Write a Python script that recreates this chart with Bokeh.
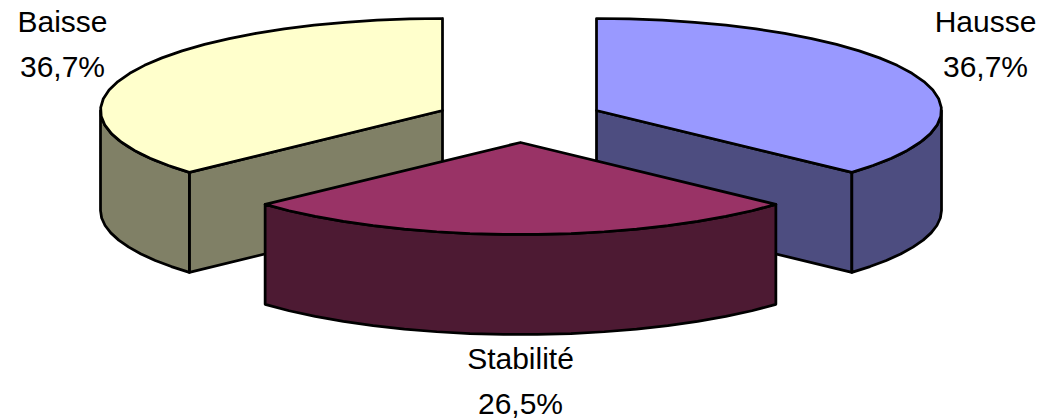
import math
from bokeh.plotting import figure
from bokeh.models import Range1d
from bokeh.core.properties import value
from bokeh.embed import file_html
from bokeh.resources import INLINE

categories = ["Hausse", "Stabilité", "Baisse"]
shares = [36.7, 26.5, 36.7]
share_labels = ["36,7%", "26,5%", "36,7%"]
top_colors = ["#9999FF", "#993366", "#FFFFCC"]
side_colors = ["#4D4D80", "#4D1A33", "#808066"]

RADII_X = [345, 345, 342]
RY, DEPTH = 92, 100
centres = [(596, 110), (520, 142), (442, 110)]
label_pos = [(985, 21), (520, 358), (62, 21)]
LINE_GAP = 45

p = figure(width=1041, height=420, output_backend="svg", toolbar_location=None,
           x_range=Range1d(0, 1041), y_range=Range1d(420, 0),
           min_border=0, outline_line_color=None, background_fill_color="white",
           border_fill_color="white")
p.axis.visible = False
p.grid.visible = False


def rim(cx, cy, rx, a0, a1):
    n = max(2, int(abs(a1 - a0) * 60 / 360) + 2)
    out = []
    for i in range(n + 1):
        a = math.radians(a0 + (a1 - a0) * i / n)
        out.append((cx + rx * math.sin(a), cy - RY * math.cos(a)))
    return out


def poly(points, fill):
    p.patch([q[0] for q in points], [q[1] for q in points], fill_color=fill,
            line_color="black", line_width=2.75, line_join="round")


angle = 0.0
spans = []
total = sum(shares)
for s in shares:
    spans.append((angle, angle + s / total * 360))
    angle += s / total * 360

for idx in [2, 0, 1]:
    a0, a1 = spans[idx]
    cx, cy = centres[idx]
    rx = RADII_X[idx]
    side, top = side_colors[idx], top_colors[idx]
    if idx == 0:      # right-hand slice: cut face, then outer wall
        r = rim(cx, cy, rx, a1, a1)[0]
        poly([(cx, cy), r, (r[0], r[1] + DEPTH), (cx, cy + DEPTH)], side)
        upper = rim(cx, cy, rx, a1, 90)
        poly(upper + [(x, y + DEPTH) for x, y in reversed(upper)], side)
    elif idx == 2:    # left-hand slice
        r = rim(cx, cy, rx, a0, a0)[0]
        poly([(cx, cy), r, (r[0], r[1] + DEPTH), (cx, cy + DEPTH)], side)
        upper = rim(cx, cy, rx, a0, 270)
        poly(upper + [(x, y + DEPTH) for x, y in reversed(upper)], side)
    else:             # front slice: outer wall only
        upper = rim(cx, cy, rx, a0, a1)
        poly(upper + [(x, y + DEPTH) for x, y in reversed(upper)], side)
    poly([(cx, cy)] + rim(cx, cy, rx, a0, a1), top)

for (x, y), name, lab in zip(label_pos, categories, share_labels):
    p.text([x, x], [y, y + LINE_GAP], text=[name, lab],
           text_font=value("Liberation Sans"), text_font_size="30px",
           text_color="black", text_align="center", text_baseline="alphabetic")

html = file_html(p, INLINE)
html = html.replace("<head>", "<head><style>html,body{margin:0;padding:0;overflow:hidden}</style>", 1)
open("out.html", "w").write(html)
